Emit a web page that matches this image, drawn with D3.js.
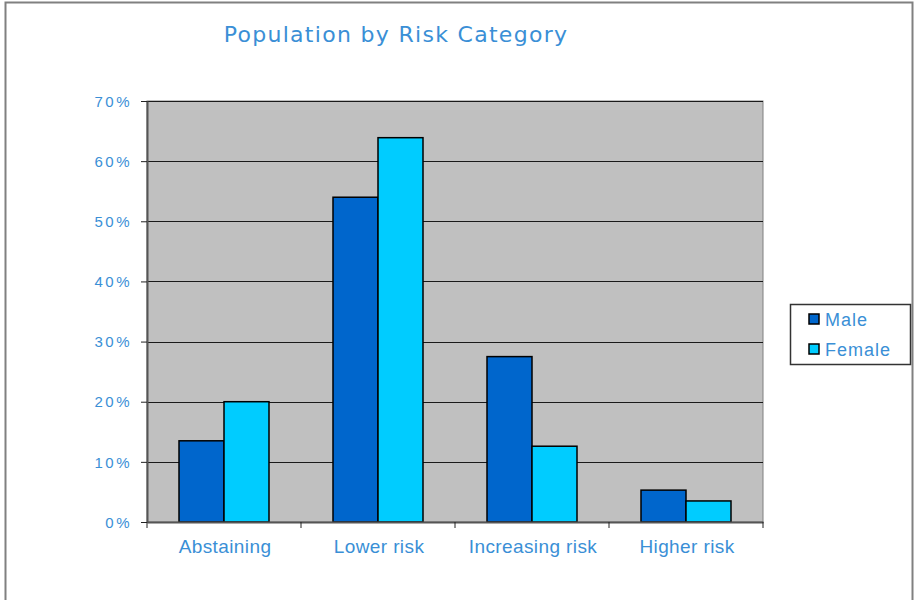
<!DOCTYPE html>
<html><head><meta charset="utf-8">
<script src="https://cdn.jsdelivr.net/npm/d3@7"></script>
<style>body{margin:0;background:#fff}svg{display:block}</style>
</head><body>
<script>
const categories = ["Abstaining", "Lower risk", "Increasing risk", "Higher risk"];
const seriesNames = ["Male", "Female"];
const maleValues = [0.135, 0.54, 0.275, 0.053];
const femaleValues = [0.20, 0.639, 0.126, 0.035];
const yTicks = [0, 0.1, 0.2, 0.3, 0.4, 0.5, 0.6, 0.7];
const colors = ["#0066cc", "#00ccff"];
const title = "Population by Risk Category";

const W = 915, H = 600;
const svg = d3.select("body").append("svg").attr("width", W).attr("height", H);
svg.append("rect").attr("x", 5.5).attr("y", 2.5).attr("width", 907).attr("height", 620)
  .attr("fill", "#fff").attr("stroke", "#808080").attr("stroke-width", 2);

const plot = {l: 147, r: 763, t: 101, b: 522};
const x = d3.scaleBand().domain(categories).range([plot.l, plot.r]).paddingInner(0).paddingOuter(0);
const y = d3.scaleLinear().domain([0, 0.7]).range([plot.b, plot.t]);
const inner = 32 / 154;
const grp = d3.scaleBand().domain(seriesNames).range([x.bandwidth()*inner, x.bandwidth()*(1-inner)]);

svg.append("rect").attr("x", plot.l).attr("y", plot.t).attr("width", plot.r - plot.l).attr("height", plot.b - plot.t)
  .attr("fill", "#c0c0c0").attr("stroke", "#808080").attr("stroke-width", 1);

// gridlines
svg.append("g").selectAll("line").data(yTicks.slice(1)).join("line")
  .attr("x1", plot.l).attr("x2", plot.r)
  .attr("y1", d => Math.round(y(d)) + 0.5).attr("y2", d => Math.round(y(d)) + 0.5)
  .attr("stroke", "#1a1a1a").attr("stroke-width", 1);

// bars
const data = categories.map((c, i) => ({c, vals: [maleValues[i], femaleValues[i]]}));
const g = svg.append("g");
data.forEach(d => {
  d.vals.forEach((v, j) => {
    g.append("rect")
      .attr("x", x(d.c) + grp(seriesNames[j]))
      .attr("y", y(v))
      .attr("width", grp.bandwidth())
      .attr("height", y(0) - y(v))
      .attr("fill", colors[j]).attr("stroke", "#000").attr("stroke-width", 1.5);
  });
});

const labelFont = "Liberation Sans, Arial, sans-serif";
const blue = "#3a8fd6";

// y axis
const yAxis = d3.axisLeft(y).tickValues(yTicks).tickFormat(d => Math.round(d*100) + "%").tickSize(6).tickSizeOuter(0);
const ya = svg.append("g").attr("transform", `translate(${plot.l},0)`).call(yAxis);
ya.select(".domain").attr("stroke", "#555").attr("stroke-width", 2);
ya.selectAll(".tick line").attr("stroke", "#222");
ya.selectAll("text").attr("fill", blue).attr("font-family", labelFont)
  .attr("font-size", 15).attr("letter-spacing", "2.5px").attr("x", -15).attr("dy", "0.35em");

// x axis
const xAxis = d3.axisBottom(x).tickValues([]).tickSizeOuter(0);
const xa = svg.append("g").attr("transform", `translate(0,${plot.b})`).call(xAxis);
xa.select(".domain").attr("stroke", "#555").attr("stroke-width", 2);
xa.selectAll(".xt").data(d3.range(categories.length + 1)).join("line")
  .attr("x1", i => plot.l + i * x.step()).attr("x2", i => plot.l + i * x.step())
  .attr("y1", 0).attr("y2", 6).attr("stroke", "#222");
xa.selectAll(".xl").data(categories).join("text")
  .attr("x", d => x(d) + x.bandwidth()/2 + 1).attr("y", 31)
  .attr("text-anchor", "middle").attr("fill", blue)
  .attr("font-family", labelFont).attr("font-size", 19).attr("letter-spacing", "0.4px")
  .text(d => d);

// title
svg.append("text").attr("x", 396).attr("y", 42).attr("text-anchor", "middle")
  .attr("fill", blue).attr("font-family", "DejaVu Sans, sans-serif")
  .attr("font-size", 22).attr("letter-spacing", "1.3px").text(title);

// legend
const lg = svg.append("g");
lg.append("rect").attr("x", 790.5).attr("y", 304.5).attr("width", 120).attr("height", 60)
  .attr("fill", "#fff").attr("stroke", "#333").attr("stroke-width", 1.5);
seriesNames.forEach((s, i) => {
  lg.append("rect").attr("x", 809).attr("y", 314 + i*30).attr("width", 10).attr("height", 10)
    .attr("fill", colors[i]).attr("stroke", "#000").attr("stroke-width", 1.5);
  lg.append("text").attr("x", 825).attr("y", 320 + i*30).attr("dy", "0.35em")
    .attr("fill", blue).attr("font-family", labelFont).attr("letter-spacing", "1px")
    .attr("font-size", 18).text(s);
});
</script>
</body></html>
